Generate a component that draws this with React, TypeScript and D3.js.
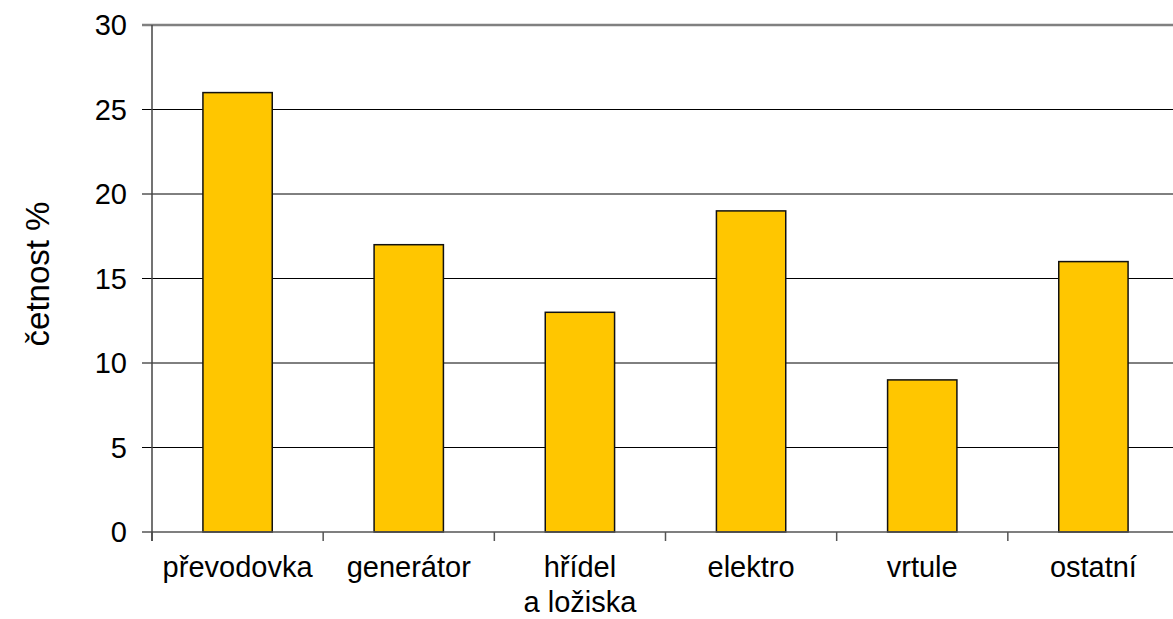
import React from "react";
import * as d3 from "d3";

const categories = ["převodovka", "generátor", "hřídel\na ložiska", "elektro", "vrtule", "ostatní"];
const values = [26, 17, 13, 19, 9, 16];
const yTicks = [0, 5, 10, 15, 20, 25, 30];
const yTitle = "četnost %";

const width = 1173;
const height = 619;
const marginLeft = 152;
const plotRight = 1179;
const marginTop = 25;
const plotBottom = 532;
const font = "'Liberation Sans', Arial, sans-serif";

export default function App() {
  const x = d3.scaleBand<string>().domain(categories).range([marginLeft, plotRight]).paddingInner(0).paddingOuter(0);
  const y = d3.scaleLinear().domain([0, 30]).range([plotBottom, marginTop]);
  const bw = x.bandwidth() * 0.405;

  return (
    <svg width={width} height={height} style={{ position: "absolute", left: 0, top: 0, background: "#fff" }}>
      {/* grid lines */}
      {yTicks.filter((t) => t > 0).map((t) => (
        <line
          key={t}
          x1={marginLeft - 10}
          x2={plotRight}
          y1={y(t)}
          y2={y(t)}
          stroke={t === 30 ? "#808080" : "#000"}
          strokeWidth={t === 30 ? 2.5 : 1}
        />
      ))}
      {/* bars */}
      {values.map((v, i) => {
        const cx = (x(categories[i]) as number) + x.bandwidth() / 2;
        return (
          <rect
            key={i}
            x={cx - bw / 2}
            y={y(v)}
            width={bw}
            height={y(0) - y(v)}
            fill="#FFC600"
            stroke="#111"
            strokeWidth={1.5}
          />
        );
      })}
      {/* x axis */}
      <line x1={marginLeft - 10} x2={plotRight} y1={y(0)} y2={y(0)} stroke="#555" strokeWidth={1.5} />
      {categories.map((c) => (
        <line key={c} x1={x(c)} x2={x(c)} y1={y(0)} y2={y(0) + 9} stroke="#555" strokeWidth={1.5} />
      ))}
      {/* y axis */}
      <line x1={marginLeft} x2={marginLeft} y1={y(30)} y2={y(0) + 9} stroke="#444" strokeWidth={1.5} />
      {yTicks.map((t) => (
        <text key={t} x={127} y={y(t)} dy="0.36em" textAnchor="end" fontFamily={font} fontSize={29} fill="#000">
          {t}
        </text>
      ))}
      {/* category labels */}
      {categories.map((c) => {
        const cx = (x(c) as number) + x.bandwidth() / 2;
        return (
          <text key={c} x={cx} y={577} textAnchor="middle" fontFamily={font} fontSize={29} fill="#000">
            {c.split("\n").map((line, j) => (
              <tspan key={j} x={cx} dy={j === 0 ? 0 : 35}>
                {line}
              </tspan>
            ))}
          </text>
        );
      })}
      {/* y title */}
      <text
        transform={`translate(49, 274) rotate(-90)`}
        textAnchor="middle"
        fontFamily={font}
        fontSize={33}
        fill="#000"
      >
        {yTitle}
      </text>
    </svg>
  );
}
